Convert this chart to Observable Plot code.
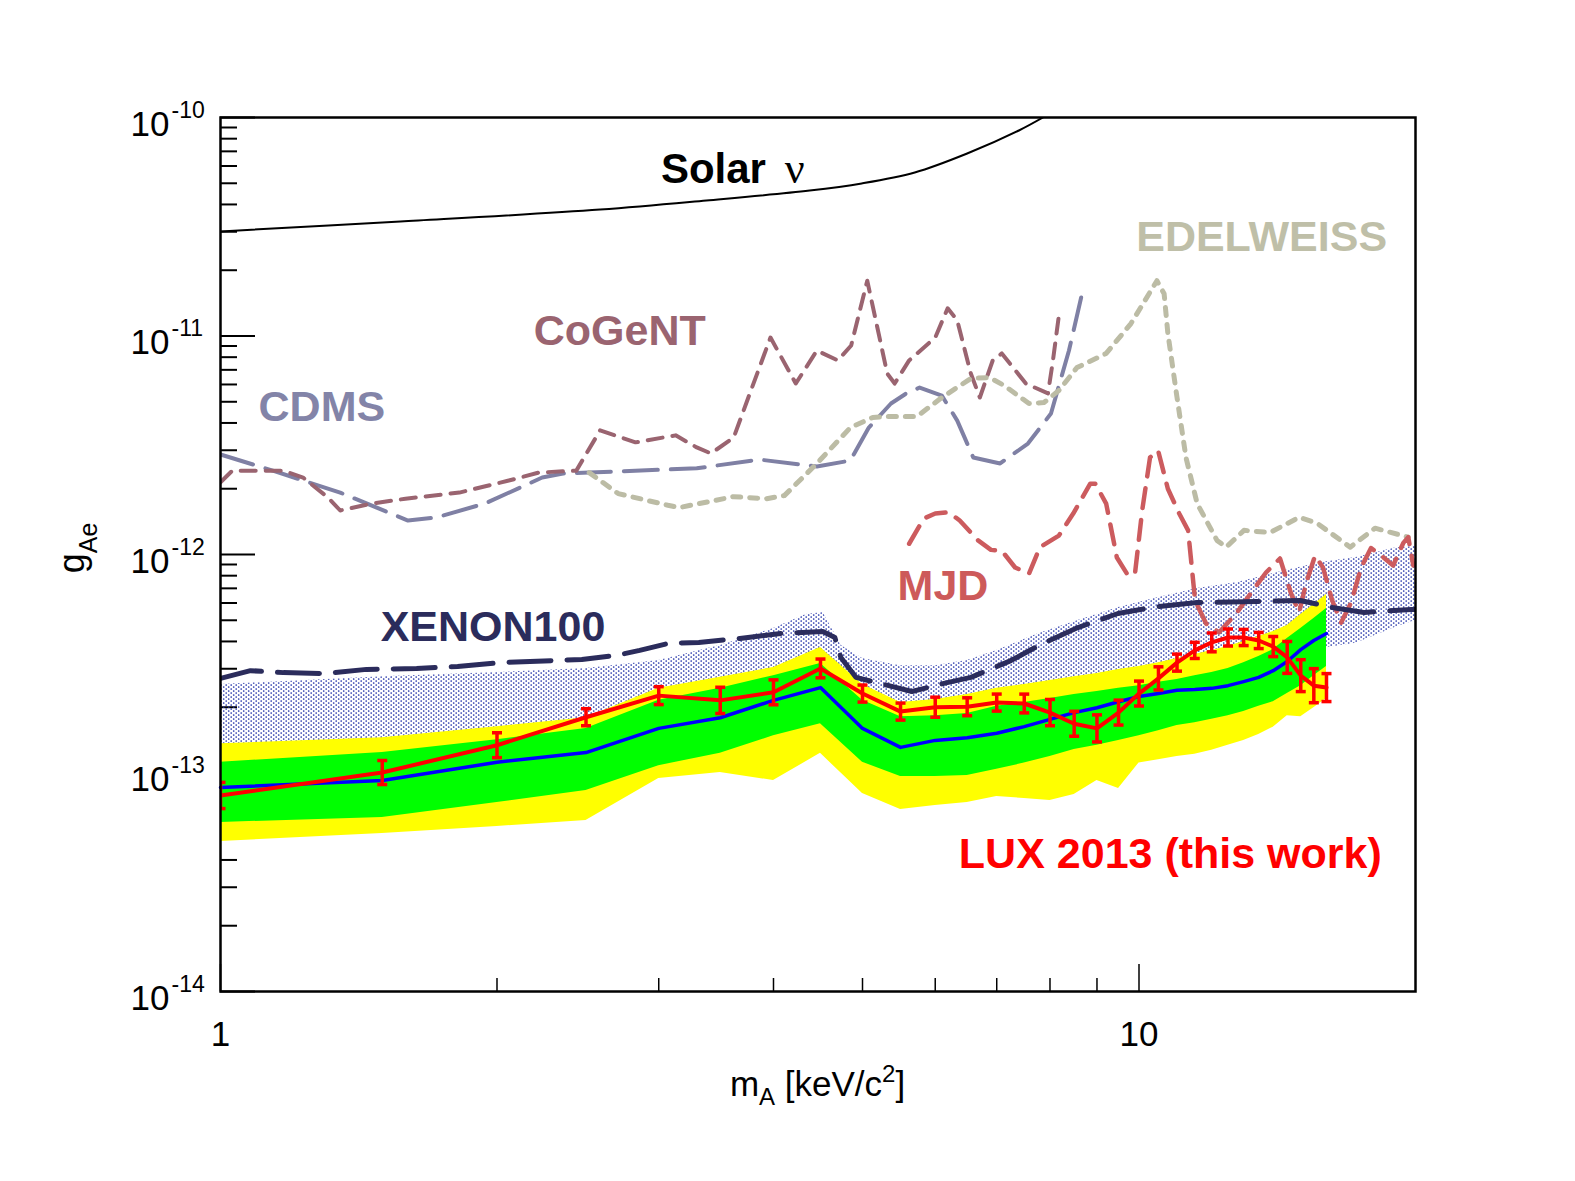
<!DOCTYPE html>
<html><head><meta charset="utf-8">
<script src="https://cdn.jsdelivr.net/npm/d3@7"></script>
<script src="https://cdn.jsdelivr.net/npm/@observablehq/plot@0.6"></script>
<style>html,body{margin:0;padding:0;background:#fff;}</style>
</head><body><div id="chart"></div>
<script>
// ---------------- DATA (axion mass in keV/c^2, coupling g_Ae) ----------------
const yMajor = [1e-14, 1e-13, 1e-12, 1e-11, 1e-10];
const yMinor = [2e-14,3e-14,4e-14,5e-14,6e-14,7e-14,8e-14,9e-14,
                2e-13,3e-13,4e-13,5e-13,6e-13,7e-13,8e-13,9e-13,
                2e-12,3e-12,4e-12,5e-12,6e-12,7e-12,8e-12,9e-12,
                2e-11,3e-11,4e-11,5e-11,6e-11,7e-11,8e-11,9e-11];
const xMajor = [1, 10];
const xMinor = [2, 3, 4, 5, 6, 7, 8, 9];

// LUX 2013 limit and expected sensitivity bands
const luxMass = [1,1.5,2,2.5,3,3.5,4,4.5,5,5.5,6,6.5,7,7.5,8,8.5,9,9.5,10,10.5,11,11.5,12,12.5,13,13.5,14,14.5,15,15.5,16];
const luxG = [7.89e-14,1.005e-13,1.34e-13,1.80e-13,2.26e-13,2.15e-13,2.34e-13,3.01e-13,2.31e-13,1.91e-13,2.00e-13,2.01e-13,2.10e-13,2.08e-13,1.89e-13,1.68e-13,1.60e-13,1.89e-13,2.31e-13,2.71e-13,3.20e-13,3.64e-13,3.96e-13,4.17e-13,4.17e-13,4.04e-13,3.79e-13,3.38e-13,2.79e-13,2.51e-13,2.46e-13];
const luxErrDex = [0.06,0.055,0.057,0.039,0.041,0.06,0.057,0.043,0.039,0.039,0.046,0.041,0.039,0.043,0.06,0.057,0.062,0.057,0.057,0.053,0.039,0.037,0.043,0.039,0.037,0.037,0.046,0.073,0.073,0.078,0.064];
const yellowHi = [1.36e-13,1.45e-13,1.63e-13,1.79e-13,2.44e-13,2.74e-13,3.04e-13,3.75e-13,2.54e-13,2.10e-13,2.17e-13,2.29e-13,2.44e-13,2.54e-13,2.65e-13,2.76e-13,2.85e-13,2.98e-13,3.07e-13,3.20e-13,3.34e-13,3.49e-13,3.64e-13,3.79e-13,4.00e-13,4.21e-13,4.44e-13,4.73e-13,5.31e-13,5.91e-13,6.56e-13];
const yellowLo = [4.86e-14,5.28e-14,5.69e-14,6.06e-14,9.44e-14,1.005e-13,9.24e-14,1.23e-13,8.06e-14,6.81e-14,7.10e-14,7.33e-14,7.81e-14,7.64e-14,7.48e-14,7.97e-14,9.24e-14,8.49e-14,1.11e-13,1.15e-13,1.19e-13,1.22e-13,1.27e-13,1.34e-13,1.41e-13,1.50e-13,1.62e-13,1.83e-13,1.81e-13,1.99e-13,2.19e-13];
const greenHi = [1.12e-13,1.24e-13,1.42e-13,1.60e-13,2.15e-13,2.44e-13,2.79e-13,3.17e-13,2.15e-13,1.81e-13,1.83e-13,1.87e-13,2.02e-13,2.10e-13,2.19e-13,2.29e-13,2.36e-13,2.44e-13,2.51e-13,2.60e-13,2.68e-13,2.79e-13,2.88e-13,3.01e-13,3.20e-13,3.41e-13,3.67e-13,4.13e-13,4.58e-13,5.10e-13,5.66e-13];
const greenLo = [5.94e-14,6.26e-14,7.33e-14,8.32e-14,1.08e-13,1.23e-13,1.48e-13,1.68e-13,1.12e-13,9.64e-14,9.64e-14,9.74e-14,1.04e-13,1.11e-13,1.19e-13,1.28e-13,1.34e-13,1.41e-13,1.48e-13,1.56e-13,1.65e-13,1.70e-13,1.76e-13,1.83e-13,1.91e-13,2.02e-13,2.12e-13,2.31e-13,2.51e-13,2.79e-13,3.07e-13];
const median = [8.58e-14,9.24e-14,1.12e-13,1.24e-13,1.60e-13,1.79e-13,2.15e-13,2.46e-13,1.60e-13,1.31e-13,1.41e-13,1.45e-13,1.52e-13,1.63e-13,1.76e-13,1.89e-13,1.99e-13,2.12e-13,2.24e-13,2.31e-13,2.39e-13,2.41e-13,2.44e-13,2.51e-13,2.62e-13,2.74e-13,2.94e-13,3.24e-13,3.67e-13,4.04e-13,4.35e-13];

// XENON100 expected band (dotted) and limit
const xbMass = [1,1.5,2,2.5,3,3.5,4,4.34,4.53,4.74,5,5.5,6,6.5,7,7.78,8.58,9.5,10.5,11.57,12.79,14,15.59,16.05,17.23,19.0,20];
const xbHi = [2.54e-13,2.76e-13,2.88e-13,3.01e-13,3.27e-13,3.83e-13,4.58e-13,5.31e-13,5.43e-13,3.83e-13,3.34e-13,3.10e-13,3.10e-13,3.27e-13,3.64e-13,4.35e-13,4.99e-13,5.72e-13,6.35e-13,6.99e-13,7.44e-13,8.18e-13,9.09e-13,9.3e-13,9.69e-13,1.07e-12,1.09e-12];
const xbLo = [1.0e-13,1.05e-13,1.2e-13,1.3e-13,1.8e-13,2.0e-13,2.2e-13,2.5e-13,2.5e-13,2.0e-13,1.6e-13,1.3e-13,1.4e-13,1.45e-13,1.5e-13,1.7e-13,1.9e-13,2.1e-13,2.3e-13,2.4e-13,2.6e-13,2.9e-13,3.5e-13,3.75e-13,3.92e-13,4.63e-13,4.99e-13];
const xenonMass = [1.0,1.078,1.171,1.298,1.442,1.635,1.812,2.013,2.299,2.474,2.693,2.86,3.076,3.317,3.676,4.074,4.527,4.665,4.736,4.918,5.223,5.659,6.131,6.561,7.253,7.86,8.58,9.486,10.49,11.57,13.44,14.98,16.23,17.58,19.79,20];
const xenonG = [2.71e-13,2.94e-13,2.88e-13,2.85e-13,2.98e-13,3.01e-13,3.07e-13,3.20e-13,3.27e-13,3.31e-13,3.45e-13,3.64e-13,3.92e-13,3.96e-13,4.13e-13,4.35e-13,4.44e-13,4.17e-13,3.38e-13,2.74e-13,2.57e-13,2.36e-13,2.57e-13,2.74e-13,3.27e-13,3.92e-13,4.63e-13,5.37e-13,5.78e-13,6.03e-13,6.09e-13,6.16e-13,5.72e-13,5.43e-13,5.60e-13,5.60e-13];

// Solar neutrino bound
const solarMass = [1,1.57,2.59,3.38,4.38,4.99,5.70,6.50,7.40,7.86];
const solarG = [3.01e-11,3.34e-11,3.79e-11,4.17e-11,4.63e-11,4.99e-11,5.60e-11,6.84e-11,8.72e-11,1.0e-10];

// CDMS
const cdmsMass = [1.0,1.14,1.35,1.60,1.72,1.94,2.24,2.36,2.52,3.30,3.86,4.46,4.85,5.08,5.37,5.58,5.77,6.10,6.34,6.60,7.06,7.57,8.02,8.39,8.65];
const cdmsG = [2.87e-12,2.42e-12,1.92e-12,1.43e-12,1.48e-12,1.71e-12,2.25e-12,2.35e-12,2.37e-12,2.48e-12,2.72e-12,2.53e-12,2.69e-12,3.81e-12,4.91e-12,5.46e-12,5.81e-12,5.34e-12,4.10e-12,2.78e-12,2.61e-12,3.22e-12,4.42e-12,8.58e-12,1.50e-11];

// CoGeNT
const cogMass = [1.0,1.03,1.17,1.23,1.31,1.35,1.46,1.59,1.82,2.06,2.22,2.44,2.59,2.83,3.13,3.30,3.42,3.62,3.78,3.97,4.23,4.46,4.70,4.86,5.06,5.32,5.42,5.62,6.00,6.19,6.34,6.56,6.71,6.93,7.09,7.53,7.96,8.06,8.18];
const cogG = [2.14e-12,2.42e-12,2.42e-12,2.25e-12,1.82e-12,1.59e-12,1.71e-12,1.80e-12,1.92e-12,2.18e-12,2.37e-12,2.42e-12,3.70e-12,3.26e-12,3.51e-12,3.09e-12,2.90e-12,3.43e-12,5.63e-12,9.84e-12,6.06e-12,8.58e-12,7.73e-12,9.05e-12,1.79e-11,6.73e-12,6.06e-12,7.73e-12,9.84e-12,1.34e-11,1.18e-11,6.73e-12,5.23e-12,7.73e-12,8.32e-12,6.06e-12,5.46e-12,7.73e-12,1.24e-11];

// EDELWEISS
const edwMass = [2.52,2.71,3.07,3.16,3.62,3.93,4.11,4.46,4.85,5.13,5.32,5.73,6.10,6.56,6.87,7.13,7.59,7.88,8.18,8.56,9.21,9.80,10.46,10.65,10.75,11.00,11.25,11.57,12.16,12.44,13.01,13.89,14.94,15.63,16.98,18.07,19.64];
const edwG = [2.37e-12,1.90e-12,1.68e-12,1.64e-12,1.84e-12,1.80e-12,1.86e-12,2.61e-12,3.81e-12,4.24e-12,4.28e-12,4.28e-12,5.23e-12,6.39e-12,6.46e-12,5.94e-12,4.91e-12,4.96e-12,5.63e-12,7.17e-12,8.32e-12,1.14e-11,1.79e-11,1.56e-11,1.03e-11,5.23e-12,2.78e-12,1.71e-12,1.16e-12,1.08e-12,1.29e-12,1.26e-12,1.48e-12,1.39e-12,1.08e-12,1.32e-12,1.20e-12];

// MJD
const mjdMass = [5.62,5.83,6.00,6.21,6.38,6.68,6.90,7.09,7.33,7.59,7.80,8.18,8.48,8.85,8.96,9.21,9.46,9.73,9.90,10.08,10.28,10.49,10.75,11.06,11.31,11.51,11.83,12.22,12.76,13.18,13.75,14.24,14.64,14.94,15.20,15.55,15.86,16.23,16.60,17.02,17.45,17.89,18.35,18.91,19.40,19.64,19.89];
const mjdG = [1.12e-12,1.46e-12,1.54e-12,1.56e-12,1.43e-12,1.16e-12,1.05e-12,1.04e-12,8.72e-13,8.18e-13,1.08e-12,1.22e-12,1.54e-12,2.11e-12,2.11e-12,1.71e-12,9.69e-13,8.01e-13,8.18e-13,1.59e-12,2.78e-12,2.99e-12,2.00e-12,1.54e-12,1.29e-12,6.16e-13,4.83e-13,4.40e-13,5.37e-13,6.49e-13,8.27e-13,9.59e-13,6.63e-13,5.43e-13,7.37e-13,9.89e-13,8.72e-13,6.16e-13,4.88e-13,6.03e-13,8.72e-13,1.07e-12,9.89e-13,8.91e-13,1.13e-12,1.20e-12,8.91e-13];

// Curve labels (anchor in data coordinates)
const labelText = ["Solar", "ν", "EDELWEISS", "CoGeNT", "CDMS", "MJD", "XENON100", "LUX 2013 (this work)"];
const labelMass = [3.925, 4.115, 9.93, 2.193, 1.10, 5.46, 1.494, 6.366];
const labelG    = [5.04e-11, 5.04e-11, 2.46e-11, 9.05e-12, 4.10e-12, 6.16e-13, 4.04e-13, 3.69e-14];

// ---------------- BUILD ----------------
const W = 1575, H = 1181;
const mL = 220, mR = 160, mT = 117, mB = 190;
const plotW = W - mL - mR, plotH = H - mT - mB;
const rows = (xs, ys) => xs.map((x, i) => ({x, y: ys[i]}));

const bands = luxMass.map((m, i) => ({x: m, yl: yellowLo[i], yh: yellowHi[i], gl: greenLo[i], gh: greenHi[i], med: median[i]}));
const xband = xbMass.map((m, i) => ({x: m, lo: xbLo[i], hi: xbHi[i]}));
const lux = luxMass.map((m, i) => ({x: m, y: luxG[i], lo: luxG[i] / Math.pow(10, luxErrDex[i]), hi: luxG[i] * Math.pow(10, luxErrDex[i])}));
const labels = labelText.map((t, i) => ({text: t, x: labelMass[i], y: labelG[i]}));

const capSymbol = {draw(ctx, size) { const w = Math.sqrt(size / Math.PI); ctx.moveTo(-w, 0); ctx.lineTo(w, 0); }};

const colors = {
  CDMS: "#7f80a4", CoGeNT: "#9a6470", EDELWEISS: "#bcbca5", MJD: "#cc5b5e",
  XENON: "#2b2c5c", LUX: "#ff0000"
};
const labelStyle = {
  "Solar": {fill: "black", fontWeight: "bold", textAnchor: "end", fontSize: 42},
  "ν": {fill: "black", fontWeight: "normal", textAnchor: "start", fontSize: 44, fontFamily: "'Liberation Serif', 'DejaVu Serif', serif"},
  "EDELWEISS": {fill: "#bfbfa8"},
  "CoGeNT": {fill: colors.CoGeNT},
  "CDMS": {fill: "#8384a8"},
  "MJD": {fill: "#cd5a5a"},
  "XENON100": {fill: colors.XENON},
  "LUX 2013 (this work)": {fill: colors.LUX}
};

const svg = Plot.plot({
  width: W, height: H,
  marginLeft: mL, marginRight: mR, marginTop: mT, marginBottom: mB,
  style: {fontFamily: "'Liberation Sans', Arial, Helvetica, sans-serif", background: "white", overflow: "visible"},
  x: {type: "log", domain: [1, 20], axis: null},
  y: {type: "log", domain: [1e-14, 1e-10], axis: null},
  marks: [
    // ticks (drawn first, bands cover them)
    Plot.tickY(yMajor, {y: d => d, stroke: "black", strokeWidth: 2, insetRight: plotW - 35}),
    Plot.tickY(yMinor, {y: d => d, stroke: "black", strokeWidth: 2, insetRight: plotW - 17}),
    Plot.tickX(xMajor, {x: d => d, stroke: "black", strokeWidth: 1.5, insetTop: plotH - 27}),
    Plot.tickX(xMinor, {x: d => d, stroke: "black", strokeWidth: 1.5, insetTop: plotH - 13}),
    // XENON100 expected band (dotted)
    Plot.areaY(xband, {x: "x", y1: "lo", y2: "hi", fill: "url(#xdots)", clip: true}),
    // LUX 2 sigma / 1 sigma bands and median
    Plot.areaY(bands, {x: "x", y1: "yl", y2: "yh", fill: "#ffff00"}),
    Plot.areaY(bands, {x: "x", y1: "gl", y2: "gh", fill: "#00ff00"}),
    Plot.line(bands, {x: "x", y: "med", stroke: "#0000ff", strokeWidth: 3.5}),
    // other experiments
    Plot.line(rows(solarMass, solarG), {x: "x", y: "y", stroke: "black", strokeWidth: 2, curve: "catmull-rom", clip: true}),
    Plot.line(rows(cdmsMass, cdmsG), {x: "x", y: "y", stroke: colors.CDMS, strokeWidth: 4, strokeDasharray: "34,13", clip: true}),
    Plot.line(rows(cogMass, cogG), {x: "x", y: "y", stroke: colors.CoGeNT, strokeWidth: 4, strokeDasharray: "15,10", clip: true}),
    Plot.line(rows(edwMass, edwG), {x: "x", y: "y", stroke: colors.EDELWEISS, strokeWidth: 5, strokeDasharray: "8,9", clip: true}),
    Plot.line(rows(mjdMass, mjdG), {x: "x", y: "y", stroke: colors.MJD, strokeWidth: 4.5, strokeDasharray: "20,12", clip: true}),
    Plot.line(rows(xenonMass, xenonG), {x: "x", y: "y", stroke: colors.XENON, strokeWidth: 5, strokeDasharray: "42,16", clip: true}),
    // LUX limit with error bars
    Plot.line(lux, {x: "x", y: "y", stroke: colors.LUX, strokeWidth: 4, clip: true}),
    Plot.ruleX(lux, {x: "x", y1: "lo", y2: "hi", stroke: colors.LUX, strokeWidth: 3.5, clip: true}),
    Plot.dot(lux, {x: "x", y: "lo", symbol: capSymbol, r: 5, stroke: colors.LUX, strokeWidth: 3.5, fill: "none", clip: true}),
    Plot.dot(lux, {x: "x", y: "hi", symbol: capSymbol, r: 5, stroke: colors.LUX, strokeWidth: 3.5, fill: "none", clip: true}),
    // labels
    ...labels.map(l => Plot.text([l], {
      x: "x", y: "y", text: "text", lineAnchor: "bottom", textAnchor: "start",
      fontWeight: "bold", fontSize: 43, ...labelStyle[l.text]
    })),
    // tick labels
    Plot.text(yMajor, {y: d => d, frameAnchor: "left", text: () => "10", textAnchor: "end", lineAnchor: "bottom", dx: -51, dy: 18, fontSize: 35, fill: "black"}),
    Plot.text(yMajor, {y: d => d, frameAnchor: "left", text: d => String(Math.round(Math.log10(d))), textAnchor: "start", lineAnchor: "bottom", dx: -49, dy: 0, fontSize: 23, fill: "black"}),
    Plot.text(xMajor, {x: d => d, frameAnchor: "bottom", text: d => String(d), lineAnchor: "bottom", dy: 54, fontSize: 35, fill: "black"}),
    Plot.frame({stroke: "black", strokeWidth: 2.5})
  ]
});

// dotted pattern for the XENON100 band
const defs = d3.select(svg).insert("defs", ":first-child");
const pat = defs.append("pattern").attr("id", "xdots").attr("patternUnits", "userSpaceOnUse").attr("width", 5).attr("height", 4);
pat.append("circle").attr("cx", 1.2).attr("cy", 1).attr("r", 0.85).attr("fill", "#2030a8");
pat.append("circle").attr("cx", 3.7).attr("cy", 3).attr("r", 0.85).attr("fill", "#2030a8");

// axis titles
const xt = d3.select(svg).append("text")
  .attr("x", mL + plotW / 2).attr("y", H - mB + 105)
  .attr("text-anchor", "middle").attr("font-size", 35).attr("fill", "black");
xt.append("tspan").text("m");
xt.append("tspan").attr("font-size", 24).attr("dy", 9).text("A");
xt.append("tspan").attr("dy", -9).text(" [keV/c");
xt.append("tspan").attr("font-size", 24).attr("dy", -14).text("2");
xt.append("tspan").attr("dy", 14).text("]");

const yt = d3.select(svg).append("text")
  .attr("transform", `translate(84, ${mT + 431}) rotate(-90)`)
  .attr("text-anchor", "middle").attr("font-size", 36).attr("fill", "black");
yt.append("tspan").text("g");
yt.append("tspan").attr("font-size", 25).attr("dy", 13).text("Ae");

document.getElementById("chart").appendChild(svg);
</script>
</body></html>
